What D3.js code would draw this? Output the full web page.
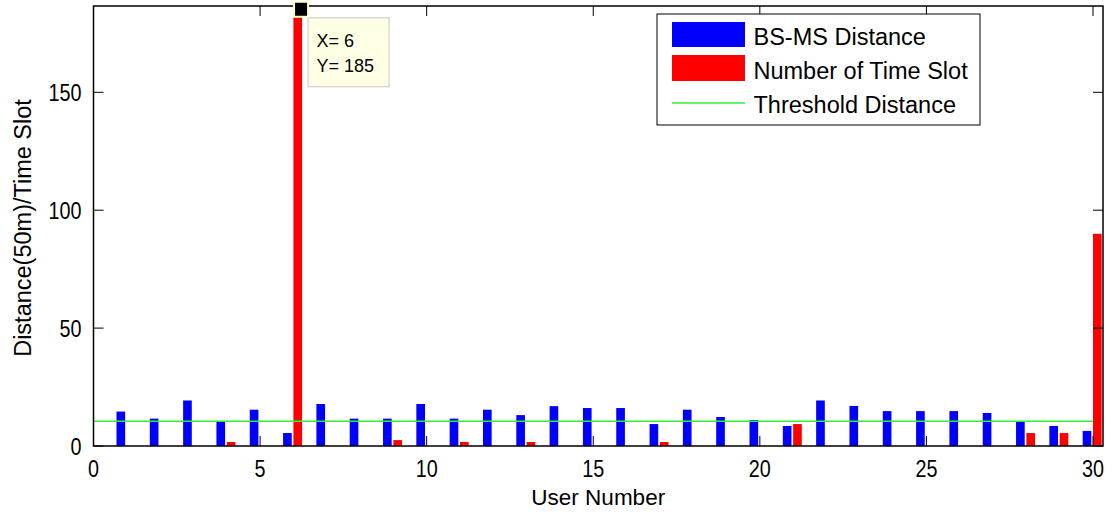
<!DOCTYPE html>
<html>
<head>
<meta charset="utf-8">
<script src="https://cdn.jsdelivr.net/npm/d3@7"></script>
<style>
  body { margin: 0; background: #fff; }
  svg { display: block; font-family: "Liberation Sans", Arial, sans-serif; }
</style>
</head>
<body>
<svg id="chart" width="1115" height="515"></svg>
<script>
// data
const users = d3.range(1, 31);
const distance = [14.6, 11.6, 19.3, 10.2, 15.4, 5.5, 17.8, 11.6, 11.6, 17.8,
                  11.6, 15.4, 13.1, 16.9, 16.1, 16.1, 9.3, 15.4, 12.3, 11.0,
                  8.5, 19.3, 17.0, 14.8, 14.8, 14.8, 14.0, 10.2, 8.5, 6.4];
const timeSlot = [0, 0, 0, 1.7, 0, 185, 0, 0, 2.5, 0,
                  1.7, 0, 1.7, 0, 0, 0, 1.7, 0, 0, 0,
                  9.3, 0, 0, 0, 0, 0, 0, 5.5, 5.5, 90];
const threshold = 10.5;
const xTicks = [0, 5, 10, 15, 20, 25, 30];
const yTicks = [0, 50, 100, 150];
const legendLabels = ["BS-MS Distance", "Number of Time Slot", "Threshold Distance"];
const tip = { x: 6, y: 185 };

const pLeft = 93.5, pRight = 1103, pTop = 6, pBottom = 446;
const svg = d3.select("#chart");

const x = d3.scaleLinear().domain([0, 30.3]).range([pLeft, pRight]);
const y = d3.scaleLinear().domain([0, 186.6]).range([pBottom, pTop]);

// bars
const barW = 0.26;
svg.append("g").selectAll("rect")
    .data(users)
    .join("rect")
    .attr("x", d => x(d - 0.31))
    .attr("y", (d, i) => y(distance[i]))
    .attr("width", x(barW) - x(0))
    .attr("height", (d, i) => y(0) - y(distance[i]))
    .attr("fill", "#0000ff");

svg.append("g").selectAll("rect")
    .data(users)
    .join("rect")
    .attr("x", d => x(d))
    .attr("y", (d, i) => y(timeSlot[i]))
    .attr("width", x(barW) - x(0))
    .attr("height", (d, i) => y(0) - y(timeSlot[i]))
    .attr("fill", "#ff0000");

// threshold line
svg.append("line")
    .attr("x1", x(0)).attr("x2", x(30))
    .attr("y1", y(threshold)).attr("y2", y(threshold))
    .attr("stroke", "#33ee33")
    .attr("stroke-width", 1.5);

// axes, ticks pointing inward on all four sides
const tickLen = 10;
const ax = svg.append("g").attr("stroke", "#000").attr("stroke-width", 1);
xTicks.forEach(t => {
    ax.append("line").attr("x1", x(t)).attr("x2", x(t)).attr("y1", pBottom).attr("y2", pBottom - tickLen);
    ax.append("line").attr("x1", x(t)).attr("x2", x(t)).attr("y1", pTop).attr("y2", pTop + tickLen);
});
yTicks.forEach(t => {
    ax.append("line").attr("x1", pLeft).attr("x2", pLeft + tickLen).attr("y1", y(t)).attr("y2", y(t));
    ax.append("line").attr("x1", pRight).attr("x2", pRight - tickLen).attr("y1", y(t)).attr("y2", y(t));
});
svg.append("rect")
    .attr("x", pLeft).attr("y", pTop)
    .attr("width", pRight - pLeft).attr("height", pBottom - pTop)
    .attr("fill", "none")
    .attr("stroke", "#000")
    .attr("stroke-width", 1.5);

// tick labels are a bit narrow in the original
svg.append("g").selectAll("text")
    .data(xTicks)
    .join("text")
    .attr("transform", d => `translate(${x(d)},${pBottom + 31}) scale(0.86,1)`)
    .attr("text-anchor", "middle")
    .attr("font-size", 23)
    .text(d => d);

svg.append("g").selectAll("text")
    .data(yTicks)
    .join("text")
    .attr("transform", d => `translate(${pLeft - 12},${y(d) + 9}) scale(0.86,1)`)
    .attr("text-anchor", "end")
    .attr("font-size", 23)
    .text(d => d);

svg.append("text")
    .attr("x", (pLeft + pRight) / 2)
    .attr("y", 505)
    .attr("text-anchor", "middle")
    .attr("font-size", 22.5)
    .text("User Number");

svg.append("text")
    .attr("transform", `translate(31,${(pTop + pBottom) / 2 + 2}) rotate(-90)`)
    .attr("text-anchor", "middle")
    .attr("font-size", 23.5)
    .text("Distance(50m)/Time Slot");

// legend
const lg = svg.append("g").attr("transform", "translate(657,14)");
lg.append("rect").attr("width", 323).attr("height", 111)
    .attr("fill", "#fff").attr("stroke", "#000").attr("stroke-width", 1);
lg.append("rect").attr("x", 15).attr("y", 8).attr("width", 73).attr("height", 25).attr("fill", "#0000ff");
lg.append("rect").attr("x", 15).attr("y", 41).attr("width", 73).attr("height", 26).attr("fill", "#ff0000");
lg.append("line").attr("x1", 15).attr("x2", 88).attr("y1", 89).attr("y2", 89)
    .attr("stroke", "#33ee33").attr("stroke-width", 1.5);
lg.selectAll("text.lab")
    .data(legendLabels)
    .join("text")
    .attr("class", "lab")
    .attr("x", 96.5)
    .attr("y", (d, i) => [31, 64.5, 99][i])
    .attr("font-size", 23.5)
    .text(d => d);

// data tip
const tx = x(tip.x + 0.23), ty = y(tip.y);
svg.append("rect")
    .attr("x", tx + 7).attr("y", ty + 8)
    .attr("width", 81).attr("height", 69)
    .attr("fill", "#ffffe6").attr("stroke", "#c8c8c8");
svg.append("rect")
    .attr("x", tx - 7).attr("y", ty - 8)
    .attr("width", 14).attr("height", 15)
    .attr("fill", "#000").attr("stroke", "#ffffcc").attr("stroke-width", 2);
svg.append("text").attr("x", tx + 15.5).attr("y", ty + 37).attr("font-size", 18).text(`X= ${tip.x}`);
svg.append("text").attr("x", tx + 15.5).attr("y", ty + 62).attr("font-size", 18).text(`Y= ${tip.y}`);
</script>
</body>
</html>
